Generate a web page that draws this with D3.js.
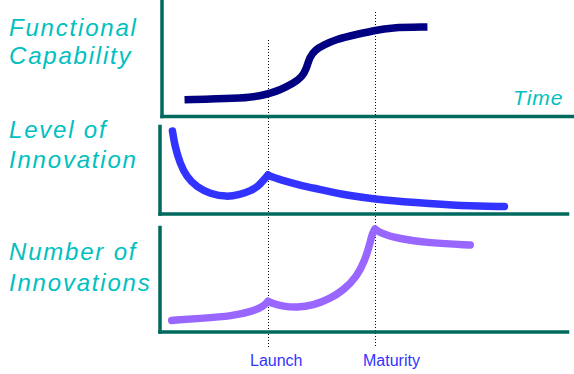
<!DOCTYPE html>
<html>
<head>
<meta charset="utf-8">
<script src="https://cdn.jsdelivr.net/npm/d3@7"></script>
<style>
  body { margin: 0; background: #fff; }
  .title { font-family: "Liberation Sans", Arial, sans-serif; font-style: italic; fill: #00c0c0; }
  .axis path { stroke: #006a5f; stroke-width: 3.5; stroke-linecap: square; }
  .milestone { font-family: "Liberation Sans", Arial, sans-serif; font-size: 16px; fill: #3333ff; }
</style>
</head>
<body>
<script>
//time positions (launch = 1, maturity = 2)
var milestoneTimes = [1, 2];
var milestoneLabels = ["Launch", "Maturity"];

//functional capability (S curve)
var capTimes  = [0.22, 0.71, 0.93, 1.02, 1.11, 1.24, 1.32, 1.36, 1.39, 1.44, 1.52, 1.64, 1.80, 2.0, 2.14, 2.49];
var capValues = [14, 15, 17.2, 19.6, 22.4, 28.2, 33.9, 41, 51, 56.9, 61.2, 66.1, 69.8, 73.7, 76.3, 76.7];

//level of innovation
var levelTimes  = [0.107, 0.131, 0.178, 0.24, 0.334, 0.458, 0.614, 0.738, 0.832, 0.909, 0.956, 1.0, 1.035, 1.112, 1.30, 1.486, 1.642, 1.74, 2.01, 2.36, 2.82, 3.21];
var levelValues = [94.3, 76.2, 57.1, 41.7, 30.2, 22.6, 18.7, 21.8, 25.6, 31, 37.9, 44, 41.7, 38.7, 32.2, 27.6, 23.3, 21, 16.1, 12.6, 8.6, 8];

//number of innovations
var numberTimes  = [0.10, 0.36, 0.67, 0.863, 0.956, 1.0, 1.05, 1.143, 1.268, 1.423, 1.579, 1.704, 1.829, 1.907, 1.953, 1.975, 2.0, 2.047, 2.203, 2.51, 2.89];
var numberValues = [10.6, 12.5, 14.8, 19.5, 24, 28.8, 26.6, 24, 22.8, 25, 31.4, 39.4, 52.2, 68.3, 84.3, 94, 98, 94.5, 89.1, 84.6, 82.7];

var panelTitles = [["Functional", "Capability"], ["Level of", "Innovation"], ["Number of", "Innovations"]];

window.onload = drawChart();

function drawChart(){
    var width = 574,
        height = 374;

    var svg = d3.select("body")
        .append("svg")
        .attr("width", width)
        .attr("height", height);

    //shared time scale
    var x = d3.scaleLinear()
        .domain([0, 4])
        .range([161, 589]);

    //panel frames
    var panels = [
        {top: 0,   bottom: 116,   left: 161.5, right: 574, times: capTimes,    values: capValues,    color: "#000080", cap: "butt",  kinks: [],     titleY: [36, 64]},
        {top: 126, bottom: 213.5, left: 159.5, right: 567, times: levelTimes,  values: levelValues,  color: "#3333ff", cap: "round", kinks: [1],    titleY: [138, 168]},
        {top: 227, bottom: 331.5, left: 159.5, right: 567, times: numberTimes, values: numberValues, color: "#9966ff", cap: "round", kinks: [1, 2], titleY: [260, 291]}
    ];

    //dotted guides for launch and maturity
    var guideTops = [40, 12];
    svg.selectAll(".guide")
        .data(milestoneTimes)
        .enter()
        .append("line")
        .attr("class", "guide")
        .attr("x1", function(d){ return Math.round(x(d)) + 0.5; })
        .attr("x2", function(d){ return Math.round(x(d)) + 0.5; })
        .attr("y1", function(d, i){ return guideTops[i]; })
        .attr("y2", 347)
        .attr("stroke", "#000")
        .attr("stroke-width", 1)
        .attr("stroke-dasharray", "1,2");

    panels.forEach(function(p, pi){
        var y = d3.scaleLinear()
            .domain([0, 100])
            .range([p.bottom, p.top]);

        //axes with no ticks, only the domain line
        svg.append("g")
            .attr("class", "axis")
            .attr("transform", "translate(" + p.left + ",0)")
            .call(d3.axisLeft(y).tickValues([]).tickSizeOuter(0));

        var xAxisScale = x.copy()
            .domain([x.invert(p.left), x.invert(p.right)])
            .range([p.left, p.right]);
        svg.append("g")
            .attr("class", "axis")
            .attr("transform", "translate(0," + p.bottom + ")")
            .call(d3.axisBottom(xAxisScale).tickValues([]).tickSizeOuter(0));

        //split the series at the kinks so the corners stay sharp
        var pts = p.times.map(function(t, i){ return [t, p.values[i]]; });
        var bounds = [-Infinity].concat(p.kinks, [Infinity]);
        var segs = [];
        for (var k = 0; k < bounds.length - 1; k++){
            segs.push(pts.filter(function(d){ return d[0] >= bounds[k] && d[0] <= bounds[k + 1]; }));
        }

        var line = d3.line()
            .x(function(d){ return x(d[0]); })
            .y(function(d){ return y(d[1]); })
            .curve(d3.curveBasis);

        svg.selectAll(".curve" + pi)
            .data(segs)
            .enter()
            .append("path")
            .attr("class", "curve" + pi)
            .attr("d", line)
            .attr("fill", "none")
            .attr("stroke", p.color)
            .attr("stroke-width", 7.5)
            .attr("stroke-linecap", p.cap)
            .attr("stroke-linejoin", "round");

        //panel title
        svg.selectAll(".title" + pi)
            .data(panelTitles[pi])
            .enter()
            .append("text")
            .attr("class", "title title" + pi)
            .attr("x", 9)
            .attr("y", function(d, i){ return p.titleY[i]; })
            .style("font-size", "24px")
            .style("letter-spacing", "1.8px")
            .text(function(d){ return d; });
    });

    //time label
    svg.append("text")
        .attr("class", "title")
        .attr("x", 513)
        .attr("y", 105)
        .style("font-size", "21px")
        .style("letter-spacing", "1px")
        .text("Time");

    //milestone labels
    var labelOffsets = [-18, -12];
    svg.selectAll(".milestone")
        .data(milestoneLabels)
        .enter()
        .append("text")
        .attr("class", "milestone")
        .attr("x", function(d, i){ return x(milestoneTimes[i]) + labelOffsets[i]; })
        .attr("y", 366)
        .text(function(d){ return d; });
};
</script>
</body>
</html>
